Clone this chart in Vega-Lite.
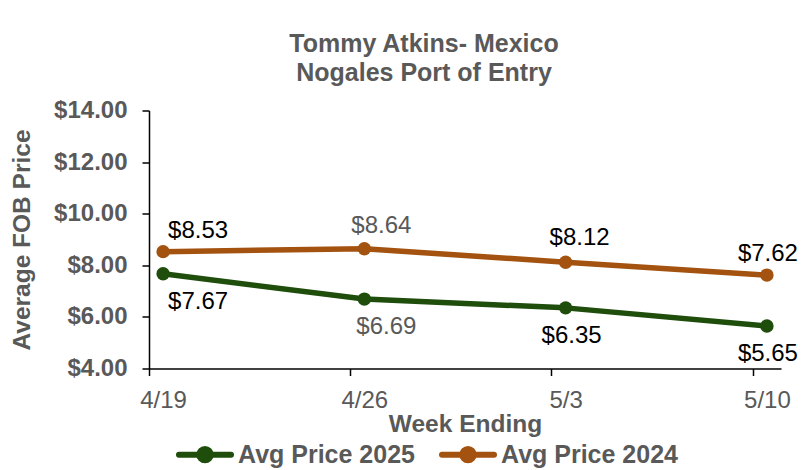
{
  "$schema": "https://vega.github.io/schema/vega-lite/v6.json",
  "autosize": {"type": "none"},
  "width": 632,
  "height": 258,
  "padding": {"left": 149, "top": 110.5, "right": 21, "bottom": 101.5},
  "background": "white",
  "config": {
    "font": "Liberation Sans",
    "view": {"stroke": null},
    "axis": {"grid": false, "domainColor": "#000000", "tickColor": "#000000", "domainWidth": 1.5, "tickWidth": 1.5, "tickSize": 7, "labelColor": "#595959", "titleColor": "#595959", "labelFont": "Liberation Sans", "titleFont": "Liberation Sans"}
  },
  "title": {
    "text": ["Tommy Atkins- Mexico", "Nogales Port of Entry"],
    "font": "Liberation Sans",
    "fontSize": 25,
    "fontWeight": "bold",
    "color": "#595959",
    "anchor": "middle",
    "frame": "group",
    "dx": -41,
    "offset": 13,
    "lineHeight": 28.5
  },
  "data": {
    "values": [
      {"week": "4/19", "series": "Avg Price 2025", "price": 7.67},
      {"week": "4/26", "series": "Avg Price 2025", "price": 6.69},
      {"week": "5/3", "series": "Avg Price 2025", "price": 6.35},
      {"week": "5/10", "series": "Avg Price 2025", "price": 5.65},
      {"week": "4/19", "series": "Avg Price 2024", "price": 8.53},
      {"week": "4/26", "series": "Avg Price 2024", "price": 8.64},
      {"week": "5/3", "series": "Avg Price 2024", "price": 8.12},
      {"week": "5/10", "series": "Avg Price 2024", "price": 7.62}
    ]
  },
  "encoding": {
    "x": {
      "field": "week", "type": "ordinal", "sort": ["4/19", "4/26", "5/3", "5/10"],
      "scale": {"type": "point", "padding": 0.07},
      "axis": {"title": "Week Ending", "labelAngle": 0, "labelFontSize": 24, "labelPadding": 13, "tickOffset": -14.4, "labelOffset": 14.4, "titleFontSize": 24.5, "titleFontWeight": "bold", "titlePadding": 0}
    },
    "y": {
      "field": "price", "type": "quantitative",
      "scale": {"domain": [4, 14], "nice": false, "zero": false},
      "axis": {"title": "Average FOB Price", "values": [4, 6, 8, 10, 12, 14], "format": "$.2f", "labelFontSize": 24, "labelFontWeight": "bold", "labelPadding": 15, "titleFontSize": 24.5, "titleFontWeight": "bold", "titlePadding": 19}
    }
  },
  "layer": [
    {
      "mark": {"type": "line", "strokeWidth": 5.5, "strokeCap": "round", "strokeJoin": "round"},
      "encoding": {
        "color": {
          "field": "series", "type": "nominal",
          "scale": {"domain": ["Avg Price 2025", "Avg Price 2024"], "range": ["#1e4d0c", "#a3520f"]},
          "legend": {
            "title": null, "orient": "none", "direction": "horizontal", "legendX": 27, "legendY": 315,
            "symbolType": "M-1,0H1M0.22,0A0.22,0.22,0,1,1,-0.22,0A0.22,0.22,0,1,1,0.22,0",
            "symbolSize": 2704, "symbolStrokeWidth": 6,
            "labelFont": "Liberation Sans", "labelFontSize": 25, "labelFontWeight": "bold", "labelColor": "#595959",
            "labelOffset": 4, "columnPadding": 15, "labelLimit": 400,
            "encode": {"symbols": {"update": {"fill": {"scale": "color", "field": "value"}, "fillOpacity": {"value": 1}, "strokeCap": {"value": "round"}}}}
          }
        }
      }
    },
    {
      "mark": {"type": "point", "filled": true, "opacity": 1, "size": 180},
      "encoding": {"color": {"field": "series", "type": "nominal", "legend": null}}
    },
    {
      "transform": [{"filter": "datum.week == '4/19'"}],
      "layer": [
        {"transform": [{"filter": "datum.series == 'Avg Price 2024'"}], "mark": {"type": "text", "fontSize": 24, "color": "#000000", "dx": 35, "dy": -14, "baseline": "alphabetic"}, "encoding": {"text": {"field": "price", "format": "$.2f"}}},
        {"transform": [{"filter": "datum.series == 'Avg Price 2025'"}], "mark": {"type": "text", "fontSize": 24, "color": "#000000", "dx": 35, "dy": 35, "baseline": "alphabetic"}, "encoding": {"text": {"field": "price", "format": "$.2f"}}}
      ]
    },
    {
      "transform": [{"filter": "datum.week == '4/26'"}],
      "layer": [
        {"transform": [{"filter": "datum.series == 'Avg Price 2024'"}], "mark": {"type": "text", "fontSize": 24, "color": "#595959", "dx": 17, "dy": -16, "baseline": "alphabetic"}, "encoding": {"text": {"field": "price", "format": "$.2f"}}},
        {"transform": [{"filter": "datum.series == 'Avg Price 2025'"}], "mark": {"type": "text", "fontSize": 24, "color": "#595959", "dx": 22, "dy": 35, "baseline": "alphabetic"}, "encoding": {"text": {"field": "price", "format": "$.2f"}}}
      ]
    },
    {
      "transform": [{"filter": "datum.week == '5/3'"}],
      "layer": [
        {"transform": [{"filter": "datum.series == 'Avg Price 2024'"}], "mark": {"type": "text", "fontSize": 24, "color": "#000000", "dx": 14, "dy": -17, "baseline": "alphabetic"}, "encoding": {"text": {"field": "price", "format": "$.2f"}}},
        {"transform": [{"filter": "datum.series == 'Avg Price 2025'"}], "mark": {"type": "text", "fontSize": 24, "color": "#000000", "dx": 6, "dy": 35, "baseline": "alphabetic"}, "encoding": {"text": {"field": "price", "format": "$.2f"}}}
      ]
    },
    {
      "transform": [{"filter": "datum.week == '5/10'"}],
      "layer": [
        {"transform": [{"filter": "datum.series == 'Avg Price 2024'"}], "mark": {"type": "text", "fontSize": 24, "color": "#000000", "dx": 1, "dy": -14, "baseline": "alphabetic"}, "encoding": {"text": {"field": "price", "format": "$.2f"}}},
        {"transform": [{"filter": "datum.series == 'Avg Price 2025'"}], "mark": {"type": "text", "fontSize": 24, "color": "#000000", "dx": 1, "dy": 35, "baseline": "alphabetic"}, "encoding": {"text": {"field": "price", "format": "$.2f"}}}
      ]
    }
  ]
}
